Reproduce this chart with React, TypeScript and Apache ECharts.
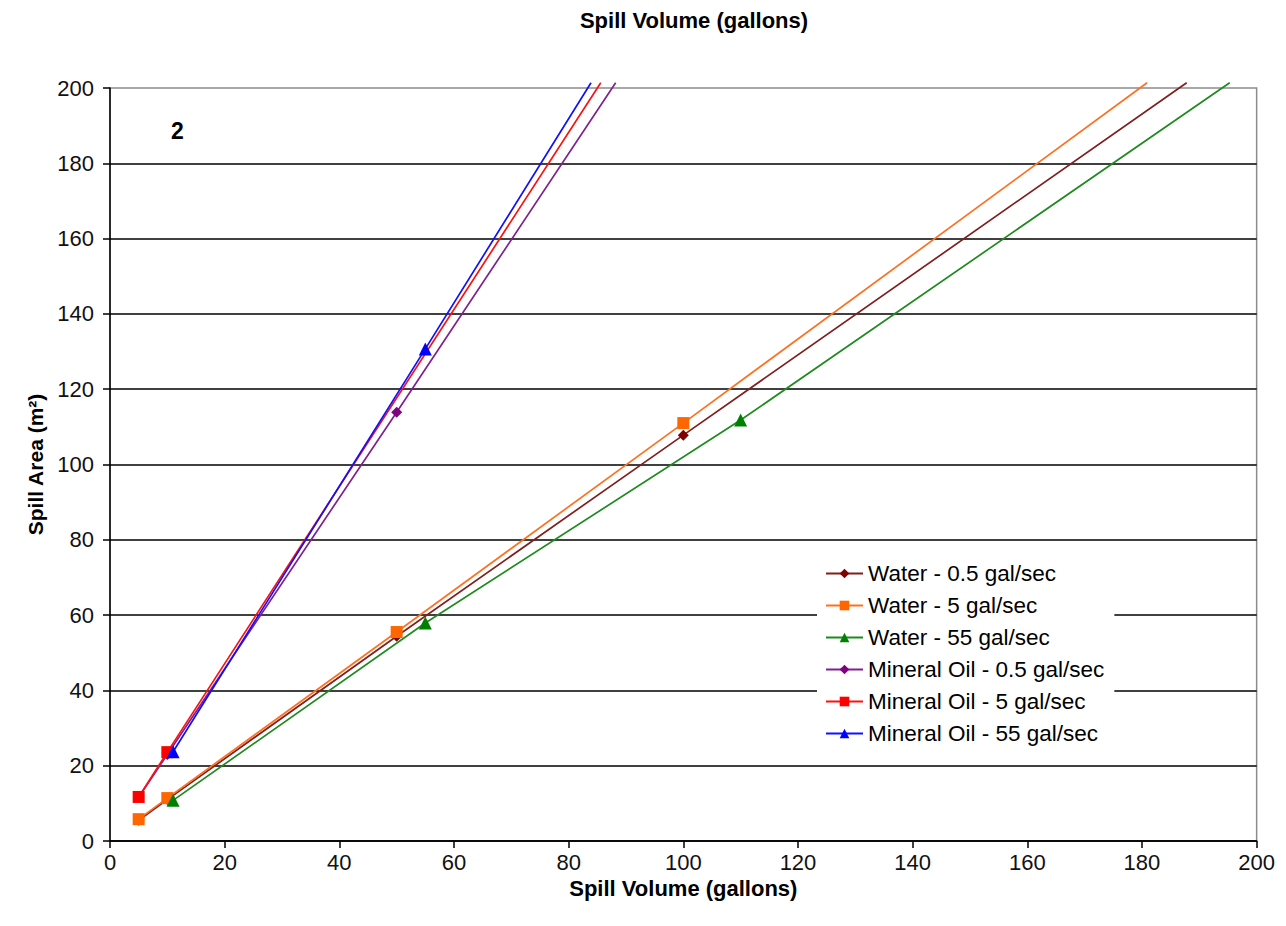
import React, { useEffect, useRef } from "react";
import * as echarts from "echarts";

const seriesNames = [
  "Water - 0.5 gal/sec",
  "Water - 5 gal/sec",
  "Water - 55 gal/sec",
  "Mineral Oil - 0.5 gal/sec",
  "Mineral Oil - 5 gal/sec",
  "Mineral Oil - 55 gal/sec",
];
const seriesColors = ["#7f1f1f", "#ff7020", "#1f8a1f", "#80208f", "#ff1010", "#1010ff"];
const markerColors = ["#800000", "#ff6600", "#008000", "#800080", "#ff0000", "#0000ff"];
const seriesSymbols = ["diamond", "rect", "triangle", "diamond", "rect", "triangle"];

const waterVolumes05 = [5, 10, 50, 100];
const waterArea05 = [5.5, 11.0, 54.4, 107.8];
const waterVolumes5 = [5, 10, 50, 100];
const waterArea5 = [5.8, 11.4, 55.5, 111.0];
const waterVolumes55 = [11, 55, 110];
const waterArea55 = [10.8, 57.9, 111.8];
const oilVolumes05 = [5, 10, 50];
const oilArea05 = [11.6, 23.0, 113.9];
const oilVolumes5 = [5, 10];
const oilArea5 = [11.7, 23.6];
const oilVolumes55 = [11, 55];
const oilArea55 = [23.7, 130.7];

// where each trendline leaves the top of the plot
const trendEnds = [
  [187.8, 201.4],
  [180.9, 201.4],
  [195.3, 201.4],
  [88.2, 201.4],
  [85.6, 201.4],
  [83.9, 201.4],
];

const allVolumes = [waterVolumes05, waterVolumes5, waterVolumes55, oilVolumes05, oilVolumes5, oilVolumes55];
const allAreas = [waterArea05, waterArea5, waterArea55, oilArea05, oilArea5, oilArea55];

const FONT = "Liberation Sans, Arial, sans-serif";

export default function App() {
  const ref = useRef<HTMLDivElement>(null);
  useEffect(() => {
    if (!ref.current) return;
    const chart = echarts.init(ref.current, undefined, { renderer: "svg" });
    const series = seriesNames.map((name, i) => {
      const pts: any[] = allVolumes[i].map((v, j) => [v, allAreas[i][j]]);
      pts.push({ value: trendEnds[i], symbol: "none" });
      return {
        name,
        type: "line",
        data: pts,
        clip: false,
        symbol: seriesSymbols[i],
        symbolSize: seriesSymbols[i] === "triangle" ? 13 : seriesSymbols[i] === "rect" ? 12 : 11,
        showAllSymbol: true,
        lineStyle: { color: seriesColors[i], width: 1.7 },
        itemStyle: { color: markerColors[i] },
        z: 3,
      };
    });
    chart.setOption({
      animation: false,
      backgroundColor: "#fff",
      title: {
        text: "Spill Volume (gallons)",
        left: 686,
        textAlign: "center",
        top: 1,
        padding: 0,
        textStyle: { fontFamily: FONT, fontSize: 22, fontWeight: "bold", color: "#000" },
      },
      grid: {
        left: 102,
        right: 16,
        top: 80,
        bottom: 77,
        show: true,
        borderColor: "#8c8c8c",
        borderWidth: 1.5,
        backgroundColor: "transparent",
      },
      legend: {
        orient: "vertical",
        left: 809,
        top: 546,
        itemWidth: 37,
        itemHeight: 12,
        itemGap: 9,
        padding: [8, 10, 8, 8],
        backgroundColor: "#fff",
        textStyle: { fontFamily: FONT, fontSize: 22.5, color: "#000" },
        data: seriesNames,
      },
      xAxis: {
        type: "value",
        min: 0,
        max: 200,
        interval: 20,
        name: "Spill Volume (gallons)",
        nameLocation: "middle",
        nameGap: 27,
        nameTextStyle: { fontFamily: FONT, fontSize: 22, fontWeight: "bold", color: "#000" },
        axisLine: { show: true, lineStyle: { color: "#000", width: 1.5 } },
        axisTick: { show: true, length: 7, lineStyle: { color: "#000", width: 1.5 } },
        axisLabel: { fontFamily: FONT, fontSize: 22, color: "#111", margin: 10 },
        splitLine: { show: false },
      },
      yAxis: {
        type: "value",
        min: 0,
        max: 200,
        interval: 20,
        name: "Spill Area (m²)",
        nameLocation: "middle",
        nameGap: 62,
        nameTextStyle: { fontFamily: FONT, fontSize: 21, fontWeight: "bold", color: "#000" },
        axisLine: { show: true, lineStyle: { color: "#000", width: 1.5 } },
        axisTick: { show: true, length: 7, lineStyle: { color: "#000", width: 1.5 } },
        axisLabel: { fontFamily: FONT, fontSize: 22, color: "#111", margin: 16 },
        splitLine: { show: true, showMaxLine: false, lineStyle: { color: "#000", width: 1.5 } },
      },
      graphic: [
        {
          type: "text",
          left: 163,
          top: 111,
          style: { text: "2", font: `bold 23px ${FONT}`, fill: "#000" },
        },
      ],
      series,
    });
    return () => chart.dispose();
  }, []);
  return <div ref={ref} style={{ width: 1270, height: 910 }} />;
}
